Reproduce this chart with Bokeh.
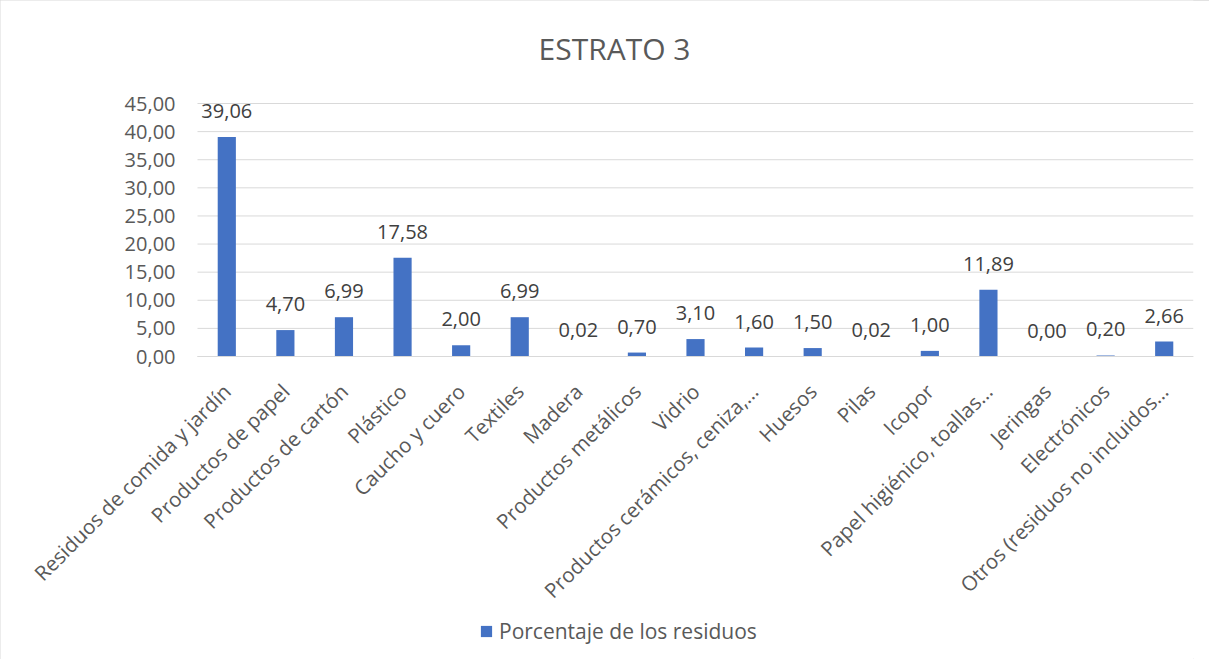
from bokeh.plotting import figure
from bokeh.models import (ColumnDataSource, Range1d, FixedTicker, LinearAxis,
                          Legend, LegendItem, Label)
from bokeh.core.properties import value
from bokeh.embed import file_html
from bokeh.resources import INLINE
import math

categories = [
    "Residuos de comida y jardín", "Productos de papel", "Productos de cartón",
    "Plástico", "Caucho y cuero", "Textiles", "Madera", "Productos metálicos",
    "Vidrio", "Productos cerámicos, ceniza,…", "Huesos", "Pilas", "Icopor",
    "Papel higiénico, toallas…", "Jeringas", "Electrónicos",
    "Otros (residuos no incluidos…",
]
porcentajes = [39.06, 4.70, 6.99, 17.58, 2.00, 6.99, 0.02, 0.70, 3.10, 1.60,
               1.50, 0.02, 1.00, 11.89, 0.00, 0.20, 2.66]
y_ticks = [0, 5, 10, 15, 20, 25, 30, 35, 40, 45]

FONT = "Open Sans"
GRAY = "#595959"

# ---- layout (pixels) ----
W, H = 1209, 659
PLOT_L, PLOT_R = 197, 1193      # plot-area left / right edge
PLOT_T, ZERO_Y = 103, 356       # y of top gridline (45) and of value 0
n = len(categories)
unit_px = (PLOT_R - PLOT_L) / n
x_start = -0.5 - PLOT_L / unit_px
x_end = n - 0.5
y_px = (ZERO_Y - PLOT_T) / y_ticks[-1]
y_end = y_ticks[-1] + PLOT_T / y_px
y_start = -(H - ZERO_Y) / y_px

idx = list(range(n))
labels = [f"{v:.2f}".replace(".", ",") for v in porcentajes]
src = ColumnDataSource(dict(x=idx, val=porcentajes, lab=labels))

p = figure(
    x_range=Range1d(x_start, x_end), y_range=Range1d(y_start, y_end),
    width=W, height=H, title=None,
    output_backend="svg", toolbar_location=None,
    x_axis_location=None, y_axis_location=None,
    min_border_left=0, min_border_right=W - PLOT_R,
    min_border_top=0, min_border_bottom=0,
)
p.styles = {"outline": "1px solid #d9d9d9", "outline-offset": "-1px"}
p.outline_line_color = None
p.background_fill_color = "white"
p.border_fill_color = "white"
p.xgrid.grid_line_color = None
p.ygrid.grid_line_color = None

# horizontal gridlines at the value-axis ticks, across the category area
p.segment(x0=[-0.5] * len(y_ticks), x1=[n - 0.5] * len(y_ticks),
          y0=y_ticks, y1=y_ticks, line_color="#d9d9d9", line_width=1)

bars = p.vbar(x="x", top="val", bottom=0, width=0.31, source=src,
              fill_color="#4472C4", line_color=None)

p.text(x="x", y="val", text="lab", source=src, text_align="center",
       text_baseline="alphabetic", y_offset=-26,
       text_font=value(FONT), text_font_size="20px", text_color="#404040")

# value axis at the left edge of the category area
yax = LinearAxis(fixed_location=-0.5, bounds=(y_ticks[0], y_ticks[-1]))
yax.ticker = FixedTicker(ticks=y_ticks)
yax.major_label_overrides = {t: f"{t:.2f}".replace(".", ",") for t in y_ticks}
yax.axis_line_color = None
yax.major_tick_line_color = None
yax.minor_tick_line_color = None
yax.major_tick_out = 0
yax.major_label_standoff = 22
yax.major_label_text_font = FONT
yax.major_label_text_font_size = "20px"
yax.major_label_text_color = GRAY
p.add_layout(yax, "left")

# category axis at value 0
xax = LinearAxis(fixed_location=0, bounds=(-0.5, n - 0.5))
xax.ticker = FixedTicker(ticks=idx)
xax.major_label_overrides = {i: c for i, c in zip(idx, categories)}
xax.major_label_orientation = math.pi / 4
xax.axis_line_color = "#d9d9d9"
xax.axis_line_width = 1
xax.major_tick_line_color = None
xax.minor_tick_line_color = None
xax.major_tick_out = 0
xax.major_label_standoff = 31
xax.major_label_text_font = FONT
xax.major_label_text_font_size = "20.5px"
xax.major_label_text_color = GRAY
p.add_layout(xax, "below")

title = Label(x=x_start + 614 / unit_px, y=y_end - 48 / y_px, text="ESTRATO 3",
              text_align="center", text_baseline="middle",
              text_font=FONT, text_font_size="30px", text_color=GRAY)
p.add_layout(title)

legend = Legend(items=[LegendItem(label="Porcentaje de los residuos", renderers=[bars])],
                location=(479, 14), orientation="horizontal",
                border_line_color=None, background_fill_alpha=0,
                glyph_width=14, glyph_height=14, label_standoff=6,
                padding=0, margin=0,
                label_text_font=FONT, label_text_font_size="21px",
                label_text_color=GRAY)
p.add_layout(legend, "center")

open("out.html", "w").write(file_html(p, INLINE))
